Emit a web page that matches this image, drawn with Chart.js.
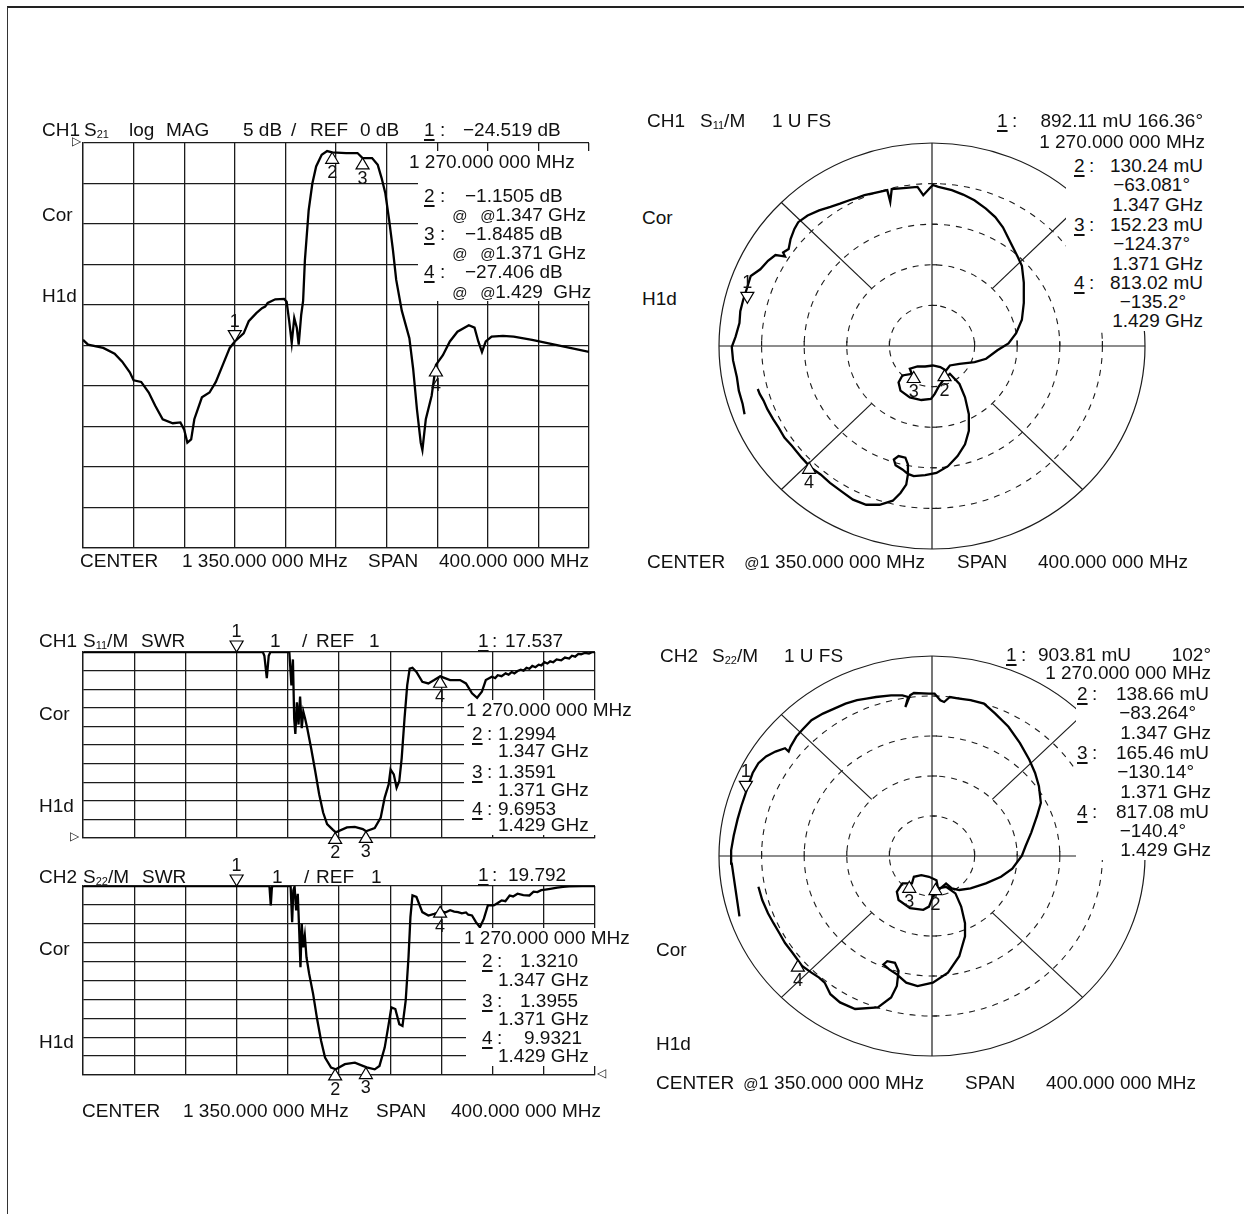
<!DOCTYPE html>
<html>
<head>
<meta charset="utf-8">
<title>Filter measurement</title>
<script src="https://cdn.jsdelivr.net/npm/chart.js@4.4.1/dist/chart.umd.min.js"></script>
<style>
  html,body{margin:0;padding:0;background:#fff}
  body{position:relative;width:1244px;height:1214px;overflow:hidden;font-family:"Liberation Sans",Arial,Helvetica,sans-serif;color:#111}
  #frame{position:absolute;left:7px;top:6px;right:0;bottom:0;border-top:2px solid #222;border-left:1.5px solid #333}
  canvas{position:absolute}
  .t{position:absolute;font-size:19px;line-height:19px;height:19px;white-space:pre;margin-top:-9px}
  .t sub{font-size:11px;vertical-align:-2px;line-height:0}
  .t u{text-decoration-thickness:1.5px;text-underline-offset:3px}
  .t i{font-size:15px}
  .t.sm{font-size:12px}
  .wb{position:absolute;background:#fff}
</style>
</head>
<body>
<div id="frame"></div>
<script>
// ---------- Data ----------
const FREQ_MIN = 1150, FREQ_MAX = 1550;   // MHz, centre 1350 / span 400

// CH1 S21 log MAG (dB)
const s21Freq = [1150,1154,1166,1175,1181,1187,1190,1196,1202,1207,1213,1221,1227,1230,1232.5,1235.5,1238,1244,1250,1255,1261,1266,1270,1277,1281,1287,1291.5,1294,1296,1302,1309,1311,1313,1315,1317,1319,1320.5,1322.5,1324,1325.4,1328.4,1331.3,1334.3,1338.7,1343,1347,1358,1367,1371,1378.5,1383,1386,1389,1392,1395,1397.6,1402,1408,1411,1414,1417,1418.3,1421,1425.6,1429,1434.5,1440,1446,1455,1459.5,1462.5,1465.4,1468.4,1473,1482,1490.5,1505,1520,1535,1550];
const s21Db = [-24.3,-24.9,-25.3,-26.0,-27.0,-28.3,-29.3,-29.5,-30.8,-32.4,-34.1,-34.6,-34.5,-35.4,-37.0,-36.6,-34.1,-31.4,-30.8,-29.5,-27.2,-25.3,-24.5,-23.5,-22.0,-21.0,-20.4,-20.2,-19.75,-19.3,-19.25,-19.6,-22.0,-24.7,-21.6,-22.8,-24.9,-21.2,-19.5,-14.5,-8.3,-5.0,-2.9,-1.45,-1.0,-1.15,-1.24,-1.24,-1.85,-1.86,-2.7,-4.3,-6.2,-9.5,-13.2,-16.9,-20.7,-24.1,-27.9,-32.9,-37.0,-37.9,-34.1,-31.2,-27.4,-26.2,-24.5,-23.3,-22.5,-22.8,-24.5,-25.8,-24.5,-23.9,-23.8,-23.9,-24.3,-24.8,-25.3,-25.8];
const s21MarkerDb = [-24.519, -1.1505, -1.8485, -27.406];

// CH1 S11 SWR (trace pinned at the top of the scale where off-screen)
const s11SwrFreq = [1150,1290.5,1291.7,1293.6,1295.1,1296.4,1311.2,1312.8,1314.0,1315.0,1315.9,1317.1,1318.4,1319.6,1320.9,1322.1,1323.6,1325.2,1328.3,1331.4,1334.5,1337.6,1340.7,1345.3,1347.5,1356.2,1362.4,1368.6,1371.1,1377.9,1382.6,1385.7,1388.8,1390.3,1392.8,1395.0,1397.1,1399.0,1401.2,1403.3,1405.2,1407.4,1410.5,1415.1,1419.8,1424.4,1429.1,1436.8,1444.6,1449.2,1453.9,1457.9,1461.6,1464.7,1469.4,1472,1474.0,1477,1480.2,1482.5,1484.9,1487,1489.5,1492,1494.2,1496.5,1498.8,1501,1503.5,1506,1508.1,1510.5,1512.8,1515,1517.4,1520,1523.6,1526.5,1529.8,1532,1534.5,1537,1539.1,1542,1545.3,1548,1550];
const s11Swr = [11,11,10.8,9.6,10.8,11,11,9.2,10.6,7.4,6.6,8.3,7.1,8.6,6.9,7.8,7.4,6.9,5.8,4.6,3.35,2.37,1.75,1.44,1.30,1.57,1.60,1.48,1.36,1.53,2.1,3.17,3.88,4.68,4.42,3.7,4.06,5.31,7.44,9.22,10.1,10.15,9.93,9.4,9.31,9.49,9.69,9.49,9.49,9.31,8.78,8.54,8.86,9.49,9.67,9.6,9.75,9.7,9.85,9.78,9.92,9.85,9.98,10.05,10.0,10.15,10.1,10.25,10.18,10.32,10.28,10.45,10.38,10.5,10.45,10.6,10.55,10.7,10.65,10.8,10.75,10.9,10.88,10.95,10.92,11,11];
const s11SwrMarkerVal = [17.537, 1.2994, 1.3591, 9.6953];

// CH2 S22 SWR
const s22SwrFreq = [1150,1294.8,1295.7,1296.7,1297.6,1298.8,1312.2,1313.4,1314.3,1315.3,1316.5,1317.8,1319.0,1319.9,1320.9,1322.1,1323.3,1324.6,1326.7,1329.8,1332.9,1336.0,1339.1,1343.8,1347.5,1354.6,1362.4,1368.6,1371.7,1377.9,1381.6,1385.7,1388.8,1390.9,1394.0,1397.1,1399.6,1402.1,1404.3,1405.8,1407.4,1410.5,1415.1,1419.8,1424.4,1430.6,1433,1436.8,1440,1443.0,1446,1449.2,1451,1453.9,1457.0,1460.1,1463.2,1466.3,1470.9,1474,1477.1,1480,1483.3,1486,1489.5,1494,1498.8,1502,1505.0,1508,1511.2,1515,1520.5,1525,1529.8,1540,1550];
const s22Swr = [11,11,10.95,9.97,10.95,11,11,9.09,10.77,10.98,9.71,10.59,8.47,6.70,9.0,7.76,8.38,7.23,6.35,5.28,3.96,2.81,1.92,1.39,1.30,1.57,1.65,1.48,1.40,1.30,1.48,2.45,3.69,4.58,4.49,3.69,3.60,4.93,7.23,9.35,10.5,10.42,9.62,9.44,9.53,9.67,9.6,9.72,9.65,9.62,9.55,9.6,9.48,9.44,9.09,8.82,9.27,9.97,9.97,10.1,10.24,10.2,10.5,10.45,10.59,10.52,10.5,10.7,10.68,10.78,10.81,10.85,10.91,10.95,10.98,11,11];
const s22SwrMarkerVal = [19.792, 1.3210, 1.3955, 9.9321];

const markerFreq = [1270, 1347, 1371, 1429];

// CH1 S11 polar (real / imaginary, 1 U full scale)
const s11Re = [-0.880,-0.889,-0.907,-0.916,-0.934,-0.940,-0.922,-0.904,-0.900,-0.886,-0.868,-0.851,-0.806,-0.770,-0.735,-0.708,-0.690,-0.699,-0.673,-0.664,-0.646,-0.628,-0.584,-0.530,-0.477,-0.432,-0.388,-0.352,-0.317,-0.263,-0.210,-0.196,-0.189,-0.121,-0.068,-0.041,-0.014,0.004,0.030,0.093,0.146,0.199,0.253,0.297,0.333,0.368,0.404,0.422,0.431,0.431,0.422,0.395,0.359,0.307,0.254,0.200,0.129,0.084,0.066,0.039,0.004,-0.032,-0.068,-0.104,-0.095,-0.139,-0.157,-0.148,-0.104,-0.050,-0.005,0.013,0.030,0.057,0.084,0.129,0.155,0.173,0.173,0.155,0.120,0.075,0.021,-0.032,-0.086,-0.113,-0.139,-0.171,-0.179,-0.157,-0.125,-0.113,-0.113,-0.121,-0.148,-0.184,-0.246,-0.309,-0.371,-0.425,-0.479,-0.523,-0.568,-0.612,-0.657,-0.693,-0.720,-0.746,-0.773,-0.791,-0.809,-0.818];
const s11Im = [-0.336,-0.286,-0.220,-0.154,-0.071,-0.005,0.046,0.113,0.171,0.229,0.287,0.345,0.378,0.420,0.448,0.444,0.441,0.461,0.478,0.527,0.577,0.610,0.643,0.668,0.685,0.701,0.718,0.730,0.743,0.756,0.768,0.710,0.773,0.779,0.784,0.743,0.773,0.793,0.784,0.768,0.746,0.718,0.677,0.635,0.585,0.511,0.436,0.395,0.312,0.212,0.129,0.063,0.013,-0.021,-0.063,-0.079,-0.088,-0.096,-0.121,-0.104,-0.096,-0.101,-0.101,-0.112,-0.137,-0.145,-0.179,-0.220,-0.253,-0.266,-0.261,-0.236,-0.203,-0.162,-0.137,-0.187,-0.253,-0.336,-0.418,-0.484,-0.542,-0.592,-0.625,-0.636,-0.641,-0.630,-0.608,-0.587,-0.559,-0.542,-0.550,-0.583,-0.633,-0.683,-0.724,-0.762,-0.782,-0.782,-0.757,-0.716,-0.674,-0.633,-0.600,-0.550,-0.493,-0.451,-0.402,-0.360,-0.311,-0.269,-0.236,-0.212];
const s11MarkerMag = [0.89211, 0.13024, 0.15223, 0.81302];
const s11MarkerDeg = [166.36, -63.081, -124.37, -135.2];

// CH2 S22 polar
const s22Re = [-0.904,-0.913,-0.922,-0.931,-0.940,-0.943,-0.931,-0.913,-0.895,-0.877,-0.859,-0.842,-0.815,-0.779,-0.735,-0.690,-0.673,-0.664,-0.637,-0.610,-0.566,-0.512,-0.459,-0.406,-0.352,-0.308,-0.263,-0.192,-0.139,-0.112,-0.125,-0.103,-0.085,-0.014,0.012,0.039,0.057,0.084,0.128,0.181,0.244,0.297,0.359,0.413,0.457,0.484,0.502,0.511,0.493,0.466,0.440,0.422,0.377,0.324,0.253,0.181,0.128,0.093,0.066,0.030,0.021,-0.014,-0.050,-0.085,-0.094,-0.139,-0.165,-0.157,-0.103,-0.041,-0.014,0.004,0.030,0.066,0.110,0.137,0.155,0.155,0.128,0.075,0.004,-0.068,-0.121,-0.165,-0.201,-0.228,-0.210,-0.174,-0.157,-0.165,-0.192,-0.254,-0.361,-0.432,-0.477,-0.504,-0.530,-0.566,-0.610,-0.655,-0.690,-0.717,-0.744,-0.770,-0.797,-0.815];
const s22Im = [-0.302,-0.236,-0.170,-0.104,-0.038,0.028,0.101,0.183,0.250,0.307,0.365,0.415,0.464,0.498,0.522,0.539,0.522,0.547,0.597,0.630,0.679,0.712,0.737,0.762,0.779,0.787,0.795,0.803,0.803,0.795,0.745,0.803,0.815,0.812,0.812,0.779,0.770,0.795,0.787,0.779,0.762,0.712,0.646,0.564,0.481,0.415,0.349,0.266,0.200,0.117,0.051,0.002,-0.063,-0.104,-0.137,-0.162,-0.170,-0.162,-0.137,-0.170,-0.121,-0.104,-0.096,-0.104,-0.137,-0.137,-0.179,-0.220,-0.261,-0.269,-0.253,-0.203,-0.162,-0.154,-0.187,-0.253,-0.336,-0.402,-0.501,-0.583,-0.633,-0.650,-0.633,-0.592,-0.567,-0.542,-0.526,-0.534,-0.575,-0.650,-0.707,-0.757,-0.765,-0.732,-0.691,-0.633,-0.608,-0.583,-0.550,-0.484,-0.435,-0.385,-0.336,-0.286,-0.220,-0.154];
const s22MarkerMag = [0.93, 0.13866, 0.16546, 0.81708];
const s22MarkerDeg = [160, -83.264, -130.14, -140.4];

const RINGS = [0.2, 0.4, 0.6, 0.8];

// ---------- Helpers ----------
const GRID = '#1c1c1c';
const FONT = '"Liberation Sans", Arial, sans-serif';
Chart.defaults.font.family = FONT;

function drawMarker(ctx, px, py, label, down){
  const w = 13, h = 11;
  ctx.save();
  ctx.fillStyle = '#fff'; ctx.strokeStyle = '#000'; ctx.lineWidth = 1.2;
  ctx.beginPath();
  ctx.moveTo(px, py);
  ctx.lineTo(px - w/2, down ? py - h : py + h);
  ctx.lineTo(px + w/2, down ? py - h : py + h);
  ctx.closePath(); ctx.fill(); ctx.stroke();
  ctx.fillStyle = '#111'; ctx.font = '18px ' + FONT; ctx.textAlign = 'center';
  if(down){ ctx.textBaseline = 'bottom'; ctx.fillText(label, px, py - h); }
  else { ctx.textBaseline = 'top'; ctx.fillText(label, px, py + h + 1); }
  ctx.restore();
}

function markerPlugin(mx, my){
  return {
    id: 'markers',
    afterDatasetsDraw(chart){
      const xs = chart.scales.x, ys = chart.scales.y;
      mx.forEach((v, i) => {
        const px = xs.getPixelForValue(v);
        const py = ys.getPixelForValue(Math.max(Math.min(my[i], ys.max), ys.min));
        drawMarker(chart.ctx, px, py, String(i + 1), i === 0);
      });
    }
  };
}

const polarGrid = {
  id: 'polarGrid',
  beforeDatasetsDraw(chart){
    const ctx = chart.ctx, xs = chart.scales.x, ys = chart.scales.y;
    const cx = xs.getPixelForValue(0), cy = ys.getPixelForValue(0);
    const rx = xs.getPixelForValue(1) - cx, ry = cy - ys.getPixelForValue(1);
    const seg = (x1,y1,x2,y2)=>{ ctx.beginPath(); ctx.moveTo(x1,y1); ctx.lineTo(x2,y2); ctx.stroke(); };
    ctx.save();
    ctx.strokeStyle = GRID; ctx.lineWidth = 1.2;
    ctx.beginPath(); ctx.ellipse(cx, cy, rx, ry, 0, 0, Math.PI*2); ctx.stroke();
    seg(cx - rx, cy, cx + rx, cy);
    seg(cx, cy - ry, cx, cy + ry);
    [45, 135, 225, 315].forEach(a => {
      const c = Math.cos(a*Math.PI/180), s = Math.sin(a*Math.PI/180);
      seg(cx + c*0.4*rx, cy - s*0.4*ry, cx + c*rx, cy - s*ry);
    });
    RINGS.forEach(r => {
      seg(cx + r*rx, cy, cx + r*rx, cy - 5); seg(cx - r*rx, cy, cx - r*rx, cy - 5);
      seg(cx, cy + r*ry, cx + 5, cy + r*ry); seg(cx, cy - r*ry, cx + 5, cy - r*ry);
    });
    ctx.lineWidth = 1.1; ctx.setLineDash([6, 6]);
    RINGS.forEach(r => { ctx.beginPath(); ctx.ellipse(cx, cy, rx*r, ry*r, 0, 0, Math.PI*2); ctx.stroke(); });
    ctx.restore();
  }
};

function addCanvas(left, top, w, h){
  const cv = document.createElement('canvas');
  cv.width = w; cv.height = h;
  cv.style.left = left + 'px'; cv.style.top = top + 'px';
  document.body.appendChild(cv);
  return cv;
}

function rectChart(x0, y0, x1, y1, freq, vals, yMin, yMax, mVals){
  const PAD = 36;
  const cv = addCanvas(x0 - PAD, y0 - PAD, (x1 - x0) + 2*PAD, (y1 - y0) + 2*PAD);
  const axis = (min, max) => ({
    type: 'linear', min, max,
    ticks: { display: false, stepSize: (max - min) / 10 },
    grid: { color: GRID, lineWidth: 1.3, drawTicks: false },
    border: { color: GRID, width: 1.3 }
  });
  return new Chart(cv, {
    type: 'line',
    data: { datasets: [{ data: freq.map((f, i) => ({ x: f, y: vals[i] })), borderColor: '#000', borderWidth: 2.3, pointRadius: 0, tension: 0 }] },
    options: {
      responsive: false, animation: false,
      layout: { padding: PAD },
      plugins: { legend: { display: false }, tooltip: { enabled: false } },
      scales: { x: axis(FREQ_MIN, FREQ_MAX), y: axis(yMin, yMax) }
    },
    plugins: [markerPlugin(markerFreq, mVals)]
  });
}

function polarChart(cx, cy, rx, ry, re, im, mMag, mDeg){
  const PAD = 30;
  const cv = addCanvas(cx - rx - PAD, cy - ry - PAD, 2*rx + 2*PAD, 2*ry + 2*PAD);
  const mRe = mMag.map((m, i) => m * Math.cos(mDeg[i] * Math.PI / 180));
  const mIm = mMag.map((m, i) => m * Math.sin(mDeg[i] * Math.PI / 180));
  return new Chart(cv, {
    type: 'scatter',
    data: { datasets: [{ data: re.map((r, i) => ({ x: r, y: im[i] })), showLine: true, borderColor: '#000', borderWidth: 2.3, pointRadius: 0, tension: 0 }] },
    options: {
      responsive: false, animation: false,
      layout: { padding: PAD },
      plugins: { legend: { display: false }, tooltip: { enabled: false } },
      scales: {
        x: { type: 'linear', min: -1, max: 1, display: false },
        y: { type: 'linear', min: -1, max: 1, display: false }
      }
    },
    plugins: [polarGrid, markerPlugin(mRe, mIm)]
  });
}

function W(x1, y1, x2, y2){
  const d = document.createElement('div');
  d.className = 'wb';
  d.style.left = x1 + 'px'; d.style.top = y1 + 'px';
  d.style.width = (x2 - x1) + 'px'; d.style.height = (y2 - y1) + 'px';
  document.body.appendChild(d);
}
function T(x, y, html, cls){
  const d = document.createElement('div');
  d.className = 't' + (cls ? ' ' + cls : '');
  d.style.left = x + 'px'; d.style.top = y + 'px';
  d.innerHTML = html;
  document.body.appendChild(d);
}
function R(x, y, html){
  const d = document.createElement('div');
  d.className = 't';
  d.style.right = (1244 - x) + 'px'; d.style.top = y + 'px';
  d.innerHTML = html;
  document.body.appendChild(d);
}

// ---------- Charts ----------
rectChart(83, 143, 589, 548, s21Freq, s21Db, -50, 0, s21MarkerDb);
rectChart(83, 652, 595, 838, s11SwrFreq, s11Swr, 1, 11, s11SwrMarkerVal);
rectChart(83, 886, 595, 1075, s22SwrFreq, s22Swr, 1, 11, s22SwrMarkerVal);
polarChart(932, 346, 213, 203, s11Re, s11Im, s11MarkerMag, s11MarkerDeg);
polarChart(932, 856, 213, 200, s22Re, s22Im, s22MarkerMag, s22MarkerDeg);

// readout backgrounds
W(405,151,593,171); W(418,171,593,301);
W(1066,152,1216,331);
W(1076,683,1218,860);
W(464,700,645,719); W(464,719,598,835);
W(460,928,638,946); W(466,946,598,1066);

// ---------- Annotations ----------
// CH1 S21 log MAG
T(42,129,'CH1'); T(84,129,'S<sub>21</sub>'); T(129,129,'log'); T(166,129,'MAG');
T(243,129,'5 dB'); T(291,129,'/'); T(310,129,'REF'); T(360,129,'0 dB');
T(424,129,'<u>1</u>'); T(440,129,':'); T(463,129,'−24.519 dB');
T(409,161,'1 270.000 000 MHz');
T(424,195,'<u>2</u>'); T(440,195,':'); T(465,195,'−1.1505 dB');
T(452,214,'<i>@</i>'); T(480,214,'<i>@</i>1.347 GHz');
T(424,233,'<u>3</u>'); T(440,233,':'); T(465,233,'−1.8485 dB');
T(452,252,'<i>@</i>'); T(480,252,'<i>@</i>1.371 GHz');
T(424,271,'<u>4</u>'); T(440,271,':'); T(465,271,'−27.406 dB');
T(452,291,'<i>@</i>'); T(480,291,'<i>@</i>1.429  GHz');
T(42,214,'Cor'); T(42,295,'H1d');
T(72,141,'▷','sm');
T(80,560,'CENTER'); T(182,560,'1 350.000 000 MHz'); T(368,560,'SPAN'); T(439,560,'400.000 000 MHz');

// CH1 S11 polar
T(647,120,'CH1'); T(700,120,'S<sub>11</sub>/M'); T(772,120,'1 U FS');
T(997,120,'<u>1</u>'); T(1012,120,':'); R(1203,120,'892.11 mU 166.36°');
R(1205,141,'1 270.000 000 MHz');
T(1074,165,'<u>2</u>'); T(1089,165,':'); R(1203,165,'130.24 mU');
R(1190,184,'−63.081°'); R(1203,204,'1.347 GHz');
T(1074,224,'<u>3</u>'); T(1089,224,':'); R(1203,224,'152.23 mU');
R(1190,243,'−124.37°'); R(1203,263,'1.371 GHz');
T(1074,282,'<u>4</u>'); T(1089,282,':'); R(1203,282,'813.02 mU');
R(1186,301,'−135.2°'); R(1203,320,'1.429 GHz');
T(642,217,'Cor'); T(642,298,'H1d');
T(647,561,'CENTER'); T(744,561,'<i>@</i>1 350.000 000 MHz'); T(957,561,'SPAN'); R(1188,561,'400.000 000 MHz');

// CH1 S11 SWR
T(39,640,'CH1'); T(83,640,'S<sub>11</sub>/M'); T(141,640,'SWR');
T(270,640,'1'); T(302,640,'/'); T(316,640,'REF'); T(369,640,'1');
T(478,640,'<u>1</u>'); T(492,640,':'); T(505,640,'17.537');
T(39,713,'Cor'); T(39,805,'H1d');
T(70,836,'▷','sm');
T(466,709,'1 270.000 000 MHz');
T(472,733,'<u>2</u>'); T(487,733,':'); T(498,733,'1.2994'); T(498,750,'1.347 GHz');
T(472,771,'<u>3</u>'); T(487,771,':'); T(498,771,'1.3591'); T(498,789,'1.371 GHz');
T(472,808,'<u>4</u>'); T(487,808,':'); T(498,808,'9.6953'); T(498,824,'1.429 GHz');

// CH2 S22 SWR
T(39,876,'CH2'); T(83,876,'S<sub>22</sub>/M'); T(142,876,'SWR');
T(272,876,'1'); T(304,876,'/'); T(316,876,'REF'); T(371,876,'1');
T(478,874,'<u>1</u>'); T(492,874,':'); T(508,874,'19.792');
T(39,948,'Cor'); T(39,1041,'H1d');
T(597,1073,'◁','sm');
T(464,937,'1 270.000 000 MHz');
T(482,960,'<u>2</u>'); T(497,960,':'); T(520,960,'1.3210'); T(498,979,'1.347 GHz');
T(482,1000,'<u>3</u>'); T(497,1000,':'); T(520,1000,'1.3955'); T(498,1018,'1.371 GHz');
T(482,1037,'<u>4</u>'); T(497,1037,':'); T(524,1037,'9.9321'); T(498,1055,'1.429 GHz');
T(82,1110,'CENTER'); T(183,1110,'1 350.000 000 MHz'); T(376,1110,'SPAN'); R(601,1110,'400.000 000 MHz');

// CH2 S22 polar
T(660,655,'CH2'); T(712,655,'S<sub>22</sub>/M'); T(784,655,'1 U FS');
T(1006,654,'<u>1</u>'); T(1021,654,':'); T(1038,654,'903.81 mU'); R(1211,654,'102°');
R(1211,672,'1 270.000 000 MHz');
T(1077,693,'<u>2</u>'); T(1092,693,':'); R(1209,693,'138.66 mU');
R(1196,712,'−83.264°'); R(1211,732,'1.347 GHz');
T(1077,752,'<u>3</u>'); T(1092,752,':'); R(1209,752,'165.46 mU');
R(1194,771,'−130.14°'); R(1211,791,'1.371 GHz');
T(1077,811,'<u>4</u>'); T(1092,811,':'); R(1209,811,'817.08 mU');
R(1186,830,'−140.4°'); R(1211,849,'1.429 GHz');
T(656,949,'Cor'); T(656,1043,'H1d');
T(656,1082,'CENTER'); T(743,1082,'<i>@</i>1 350.000 000 MHz'); T(965,1082,'SPAN'); R(1196,1082,'400.000 000 MHz');
</script>
</body>
</html>
